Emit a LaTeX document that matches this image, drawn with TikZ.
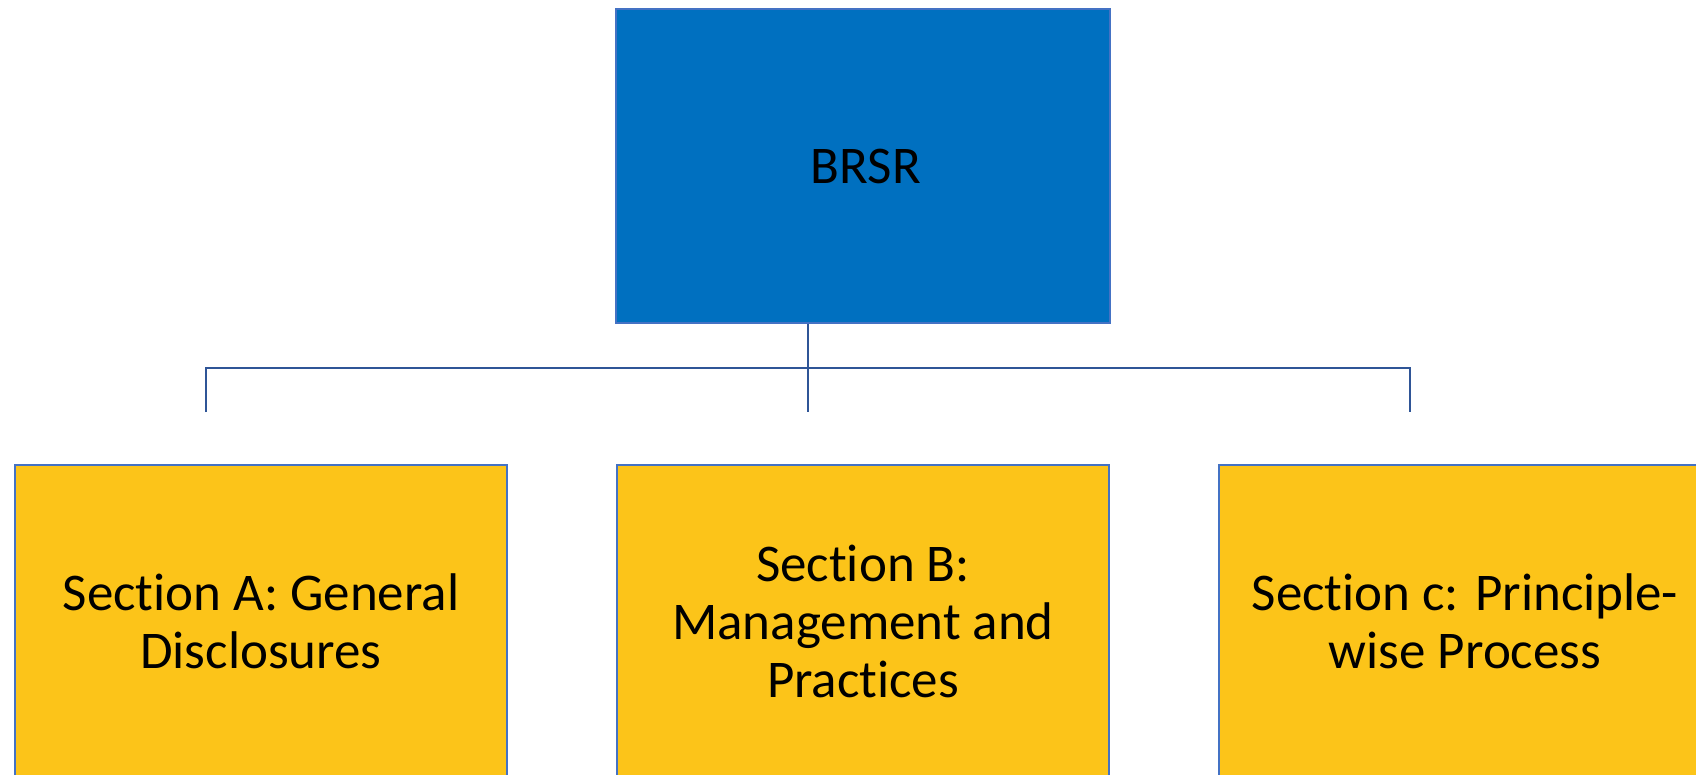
\documentclass[tikz,border=0pt]{standalone}
\usepackage{fontspec}
\setmainfont{Carlito}[Ligatures={NoCommon}]
\definecolor{topfill}{RGB}{0,112,192}
\definecolor{boxline}{RGB}{68,114,196}
\definecolor{secfill}{RGB}{252,196,25}
\definecolor{conn}{RGB}{47,85,151}
\tikzset{
  box/.style={draw=boxline, line width=2.5pt, inner sep=0pt, align=center,
    font=\fontsize{53}{58}\selectfont, text=black},
  topbox/.style={box, fill=topfill, minimum width=494pt, minimum height=314pt},
  secbox/.style={box, fill=secfill, minimum width=492pt, minimum height=312pt},
  link/.style={draw=conn, line width=2.5pt}
}
\begin{document}
\begin{tikzpicture}[x=1pt,y=-1pt]
\clip (0,0) rectangle (1696,774);
\fill[white] (0,0) rectangle (1696,774);
\node[topbox] (top) at (863,166) {\hspace*{6pt}BRSR};
\node[secbox] (sa) at (261,621) {Section A: General\\Disclosures};
\node[secbox] (sb) at (863,621) {Section B:\\Management and\\Practices};
\node[secbox] (sc) at (1465,621) {Section c: Principle-\\wise Process};
\coordinate (h) at (808,368);
\coordinate (ja) at (206,412);
\coordinate (jb) at (808,412);
\coordinate (jc) at (1410,412);
\draw[link] (ja) |- (h) -| (jc);
\draw[link] (top.south -| h) -- (jb);
\end{tikzpicture}
\end{document}
